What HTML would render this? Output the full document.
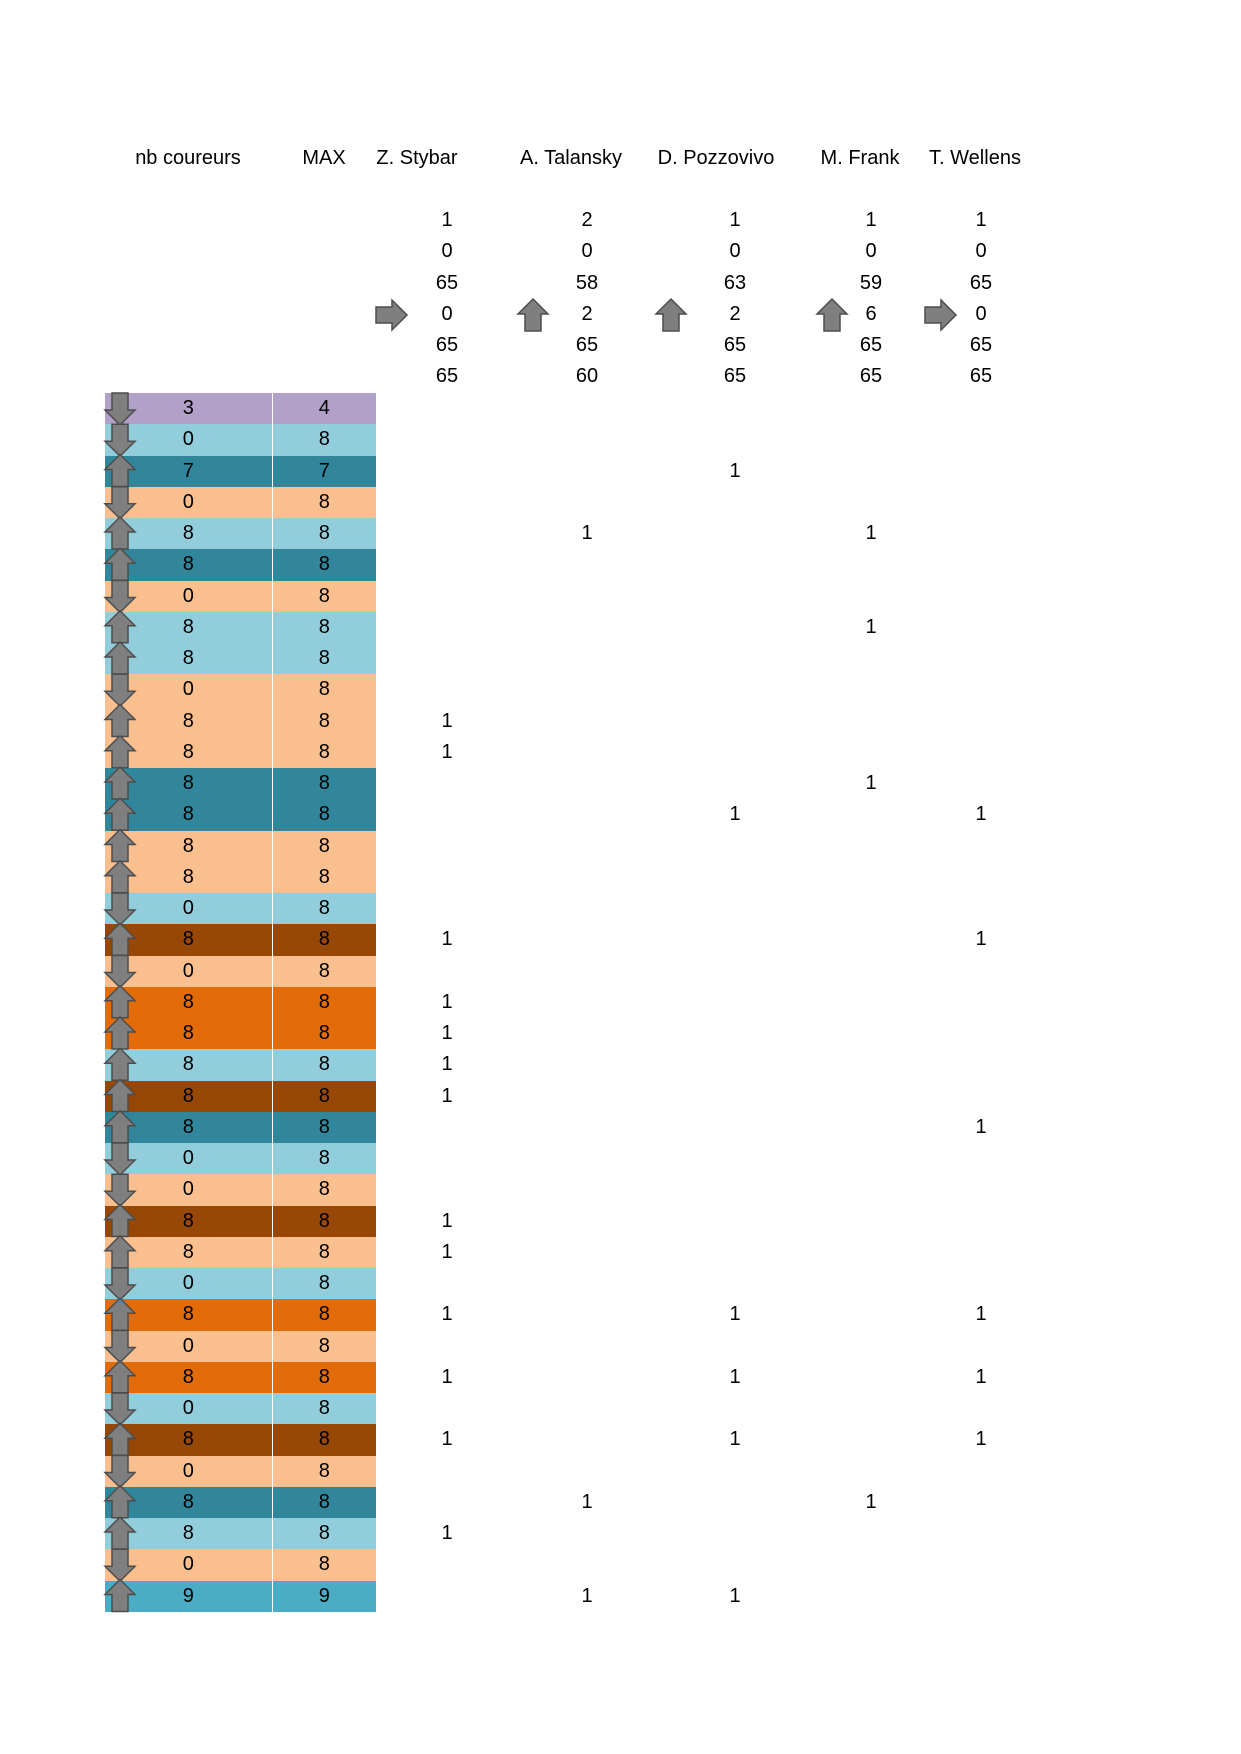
<!DOCTYPE html>
<html><head><meta charset="utf-8"><style>
body{margin:0;width:1241px;height:1754px;background:#fff;position:relative;font-family:"Liberation Sans",sans-serif;font-size:20px;color:#000;overflow:hidden}
.h{position:absolute;top:147px;white-space:nowrap;transform:translateX(-50%)}
.v{position:absolute;width:60px;margin-left:-30px;text-align:center;line-height:31.25px;height:31.25px}
table{position:absolute;left:105px;top:393px;border-collapse:collapse;table-layout:fixed;width:929px}
td{height:31.25px;padding:0;text-align:center;line-height:31.25px;box-sizing:border-box;overflow:hidden}
td.a{width:167px;border-right:1px solid rgba(255,255,255,.25)}td.b{width:104px}
td.c{width:142px}td.d{width:138px}td.e{width:158px}td.f{width:114px}td.g{width:106px}
.P td.a,.P td.b{background:#b1a0c7}.L td.a,.L td.b{background:#92cddc}.T td.a,.T td.b{background:#31869b}
.K td.a,.K td.b{background:#fabf8f}.O td.a,.O td.b{background:#e26b0a}.B td.a,.B td.b{background:#974706}.Z td.a,.Z td.b{background:#4bacc6}
svg{position:absolute;left:0;top:0}
</style></head><body>
<div class="h" style="left:188px">nb coureurs</div>
<div class="h" style="left:324px">MAX</div>
<div class="h" style="left:417px">Z. Stybar</div>
<div class="h" style="left:571px">A. Talansky</div>
<div class="h" style="left:716px">D. Pozzovivo</div>
<div class="h" style="left:860px">M. Frank</div>
<div class="h" style="left:975px">T. Wellens</div>

<div style="position:absolute;top:205px;left:0">
<div class="v" style="left:447px;top:0">1</div><div class="v" style="left:447px;top:31.25px">0</div><div class="v" style="left:447px;top:62.5px">65</div><div class="v" style="left:447px;top:93.75px">0</div><div class="v" style="left:447px;top:125px">65</div><div class="v" style="left:447px;top:156.25px">65</div>
<div class="v" style="left:587px;top:0">2</div><div class="v" style="left:587px;top:31.25px">0</div><div class="v" style="left:587px;top:62.5px">58</div><div class="v" style="left:587px;top:93.75px">2</div><div class="v" style="left:587px;top:125px">65</div><div class="v" style="left:587px;top:156.25px">60</div>
<div class="v" style="left:735px;top:0">1</div><div class="v" style="left:735px;top:31.25px">0</div><div class="v" style="left:735px;top:62.5px">63</div><div class="v" style="left:735px;top:93.75px">2</div><div class="v" style="left:735px;top:125px">65</div><div class="v" style="left:735px;top:156.25px">65</div>
<div class="v" style="left:871px;top:0">1</div><div class="v" style="left:871px;top:31.25px">0</div><div class="v" style="left:871px;top:62.5px">59</div><div class="v" style="left:871px;top:93.75px">6</div><div class="v" style="left:871px;top:125px">65</div><div class="v" style="left:871px;top:156.25px">65</div>
<div class="v" style="left:981px;top:0">1</div><div class="v" style="left:981px;top:31.25px">0</div><div class="v" style="left:981px;top:62.5px">65</div><div class="v" style="left:981px;top:93.75px">0</div><div class="v" style="left:981px;top:125px">65</div><div class="v" style="left:981px;top:156.25px">65</div>
</div>

<table>
<colgroup><col style="width:167px"><col style="width:104px"><col style="width:142px"><col style="width:138px"><col style="width:158px"><col style="width:114px"><col style="width:106px"></colgroup>
<tr class="P"><td class="a">3</td><td class="b">4</td><td class="c"></td><td class="d"></td><td class="e"></td><td class="f"></td><td class="g"></td></tr>
<tr class="L"><td class="a">0</td><td class="b">8</td><td class="c"></td><td class="d"></td><td class="e"></td><td class="f"></td><td class="g"></td></tr>
<tr class="T"><td class="a">7</td><td class="b">7</td><td class="c"></td><td class="d"></td><td class="e">1</td><td class="f"></td><td class="g"></td></tr>
<tr class="K"><td class="a">0</td><td class="b">8</td><td class="c"></td><td class="d"></td><td class="e"></td><td class="f"></td><td class="g"></td></tr>
<tr class="L"><td class="a">8</td><td class="b">8</td><td class="c"></td><td class="d">1</td><td class="e"></td><td class="f">1</td><td class="g"></td></tr>
<tr class="T"><td class="a">8</td><td class="b">8</td><td class="c"></td><td class="d"></td><td class="e"></td><td class="f"></td><td class="g"></td></tr>
<tr class="K"><td class="a">0</td><td class="b">8</td><td class="c"></td><td class="d"></td><td class="e"></td><td class="f"></td><td class="g"></td></tr>
<tr class="L"><td class="a">8</td><td class="b">8</td><td class="c"></td><td class="d"></td><td class="e"></td><td class="f">1</td><td class="g"></td></tr>
<tr class="L"><td class="a">8</td><td class="b">8</td><td class="c"></td><td class="d"></td><td class="e"></td><td class="f"></td><td class="g"></td></tr>
<tr class="K"><td class="a">0</td><td class="b">8</td><td class="c"></td><td class="d"></td><td class="e"></td><td class="f"></td><td class="g"></td></tr>
<tr class="K"><td class="a">8</td><td class="b">8</td><td class="c">1</td><td class="d"></td><td class="e"></td><td class="f"></td><td class="g"></td></tr>
<tr class="K"><td class="a">8</td><td class="b">8</td><td class="c">1</td><td class="d"></td><td class="e"></td><td class="f"></td><td class="g"></td></tr>
<tr class="T"><td class="a">8</td><td class="b">8</td><td class="c"></td><td class="d"></td><td class="e"></td><td class="f">1</td><td class="g"></td></tr>
<tr class="T"><td class="a">8</td><td class="b">8</td><td class="c"></td><td class="d"></td><td class="e">1</td><td class="f"></td><td class="g">1</td></tr>
<tr class="K"><td class="a">8</td><td class="b">8</td><td class="c"></td><td class="d"></td><td class="e"></td><td class="f"></td><td class="g"></td></tr>
<tr class="K"><td class="a">8</td><td class="b">8</td><td class="c"></td><td class="d"></td><td class="e"></td><td class="f"></td><td class="g"></td></tr>
<tr class="L"><td class="a">0</td><td class="b">8</td><td class="c"></td><td class="d"></td><td class="e"></td><td class="f"></td><td class="g"></td></tr>
<tr class="B"><td class="a">8</td><td class="b">8</td><td class="c">1</td><td class="d"></td><td class="e"></td><td class="f"></td><td class="g">1</td></tr>
<tr class="K"><td class="a">0</td><td class="b">8</td><td class="c"></td><td class="d"></td><td class="e"></td><td class="f"></td><td class="g"></td></tr>
<tr class="O"><td class="a">8</td><td class="b">8</td><td class="c">1</td><td class="d"></td><td class="e"></td><td class="f"></td><td class="g"></td></tr>
<tr class="O"><td class="a">8</td><td class="b">8</td><td class="c">1</td><td class="d"></td><td class="e"></td><td class="f"></td><td class="g"></td></tr>
<tr class="L"><td class="a">8</td><td class="b">8</td><td class="c">1</td><td class="d"></td><td class="e"></td><td class="f"></td><td class="g"></td></tr>
<tr class="B"><td class="a">8</td><td class="b">8</td><td class="c">1</td><td class="d"></td><td class="e"></td><td class="f"></td><td class="g"></td></tr>
<tr class="T"><td class="a">8</td><td class="b">8</td><td class="c"></td><td class="d"></td><td class="e"></td><td class="f"></td><td class="g">1</td></tr>
<tr class="L"><td class="a">0</td><td class="b">8</td><td class="c"></td><td class="d"></td><td class="e"></td><td class="f"></td><td class="g"></td></tr>
<tr class="K"><td class="a">0</td><td class="b">8</td><td class="c"></td><td class="d"></td><td class="e"></td><td class="f"></td><td class="g"></td></tr>
<tr class="B"><td class="a">8</td><td class="b">8</td><td class="c">1</td><td class="d"></td><td class="e"></td><td class="f"></td><td class="g"></td></tr>
<tr class="K"><td class="a">8</td><td class="b">8</td><td class="c">1</td><td class="d"></td><td class="e"></td><td class="f"></td><td class="g"></td></tr>
<tr class="L"><td class="a">0</td><td class="b">8</td><td class="c"></td><td class="d"></td><td class="e"></td><td class="f"></td><td class="g"></td></tr>
<tr class="O"><td class="a">8</td><td class="b">8</td><td class="c">1</td><td class="d"></td><td class="e">1</td><td class="f"></td><td class="g">1</td></tr>
<tr class="K"><td class="a">0</td><td class="b">8</td><td class="c"></td><td class="d"></td><td class="e"></td><td class="f"></td><td class="g"></td></tr>
<tr class="O"><td class="a">8</td><td class="b">8</td><td class="c">1</td><td class="d"></td><td class="e">1</td><td class="f"></td><td class="g">1</td></tr>
<tr class="L"><td class="a">0</td><td class="b">8</td><td class="c"></td><td class="d"></td><td class="e"></td><td class="f"></td><td class="g"></td></tr>
<tr class="B"><td class="a">8</td><td class="b">8</td><td class="c">1</td><td class="d"></td><td class="e">1</td><td class="f"></td><td class="g">1</td></tr>
<tr class="K"><td class="a">0</td><td class="b">8</td><td class="c"></td><td class="d"></td><td class="e"></td><td class="f"></td><td class="g"></td></tr>
<tr class="T"><td class="a">8</td><td class="b">8</td><td class="c"></td><td class="d">1</td><td class="e"></td><td class="f">1</td><td class="g"></td></tr>
<tr class="L"><td class="a">8</td><td class="b">8</td><td class="c">1</td><td class="d"></td><td class="e"></td><td class="f"></td><td class="g"></td></tr>
<tr class="K"><td class="a">0</td><td class="b">8</td><td class="c"></td><td class="d"></td><td class="e"></td><td class="f"></td><td class="g"></td></tr>
<tr class="Z"><td class="a">9</td><td class="b">9</td><td class="c"></td><td class="d">1</td><td class="e">1</td><td class="f"></td><td class="g"></td></tr>
</table>

<svg width="1241" height="1754" viewBox="0 0 1241 1754">
<defs>
<polygon id="u" points="15,-1 30,14 23,14 23,31 7,31 7,14 0,14" fill="#7f7f7f" stroke="#4d4d4d" stroke-width="1.5"/>
<polygon id="d" points="7,0 23,0 23,17 30,17 15,32 0,17 7,17" fill="#7f7f7f" stroke="#4d4d4d" stroke-width="1.5"/>
<polygon id="r" points="0,8 16,8 16,1 31,16 16,31 16,24 0,24" fill="#7f7f7f" stroke="#4d4d4d" stroke-width="1.5"/>
</defs>
<use href="#r" x="376" y="299"/>
<use href="#u" x="518" y="300"/>
<use href="#u" x="656" y="300"/>
<use href="#u" x="817" y="300"/>
<use href="#r" x="925" y="299"/>
<g transform="translate(105,393)">
<use href="#d" y="0"/><use href="#d" y="31.25"/><use href="#u" y="62.5"/><use href="#d" y="93.75"/>
<use href="#u" y="125"/><use href="#u" y="156.25"/><use href="#d" y="187.5"/><use href="#u" y="218.75"/>
<use href="#u" y="250"/><use href="#d" y="281.25"/><use href="#u" y="312.5"/><use href="#u" y="343.75"/>
<use href="#u" y="375"/><use href="#u" y="406.25"/><use href="#u" y="437.5"/><use href="#u" y="468.75"/>
<use href="#d" y="500"/><use href="#u" y="531.25"/><use href="#d" y="562.5"/><use href="#u" y="593.75"/>
<use href="#u" y="625"/><use href="#u" y="656.25"/><use href="#u" y="687.5"/><use href="#u" y="718.75"/>
<use href="#d" y="750"/><use href="#d" y="781.25"/><use href="#u" y="812.5"/><use href="#u" y="843.75"/>
<use href="#d" y="875"/><use href="#u" y="906.25"/><use href="#d" y="937.5"/><use href="#u" y="968.75"/>
<use href="#d" y="1000"/><use href="#u" y="1031.25"/><use href="#d" y="1062.5"/><use href="#u" y="1093.75"/>
<use href="#u" y="1125"/><use href="#d" y="1156.25"/><use href="#u" y="1187.5"/>
</g>
</svg>
</body></html>
